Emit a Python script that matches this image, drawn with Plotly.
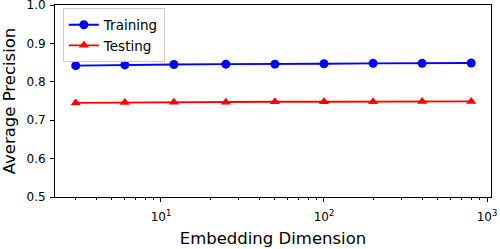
import plotly.graph_objects as go

dims = [3, 6, 12, 25, 50, 100, 200, 400, 800]
training = [0.842, 0.844, 0.845, 0.846, 0.846, 0.847, 0.848, 0.848, 0.849]
testing = [0.745, 0.746, 0.747, 0.747, 0.748, 0.748, 0.748, 0.749, 0.749]
x_tickvals = [10, 100, 1000]
x_ticktext = ["10<sup>1</sup>", "10<sup>2</sup>", "10<sup>3</sup>"]
x_minor_tickvals = [3, 4, 5, 6, 7, 8, 9, 20, 30, 40, 50, 60, 70, 80, 90,
                    200, 300, 400, 500, 600, 700, 800, 900]
y_tickvals = [0.5, 0.6, 0.7, 0.8, 0.9, 1.0]

font = "DejaVu Sans"

fig = go.Figure()
fig.add_trace(go.Scatter(x=dims, y=training, name="Training", mode="lines+markers",
                         line=dict(color="#0000ff", width=1.8),
                         marker=dict(symbol="circle", size=9, color="#0000ff")))
fig.add_trace(go.Scatter(x=dims, y=testing, name="Testing", mode="lines+markers",
                         line=dict(color="#ff0000", width=1.8),
                         marker=dict(symbol="triangle-up", size=9, color="#ff0000")))

fig.update_layout(
    width=500, height=249,
    margin=dict(l=55, r=9, t=5, b=52, autoexpand=False),
    paper_bgcolor="white", plot_bgcolor="white",
    font=dict(family=font, size=12, color="black"),
    showlegend=True,
    legend=dict(x=0.018, y=0.982, xanchor="left", yanchor="top",
                bgcolor="rgba(255,255,255,0.8)", bordercolor="#cccccc", borderwidth=1,
                font=dict(family=font, size=13.5), tracegroupgap=0),
)
fig.update_xaxes(type="log", range=[0.35, 3.0245],
                 tickvals=x_tickvals, ticktext=x_ticktext,
                 ticks="outside", ticklen=4, tickwidth=1, tickcolor="black",
                 ticklabeloverflow="allow", ticklabelstandoff=5,
                 minor=dict(tickvals=x_minor_tickvals, ticks="outside", ticklen=2,
                            tickwidth=1, tickcolor="black", showgrid=False),
                 showline=True, linecolor="black", linewidth=1, mirror=True,
                 showgrid=False, zeroline=False,
                 title=dict(text="Embedding Dimension", font=dict(family=font, size=16.5), standoff=9),
                 tickfont=dict(family=font, size=12))
fig.update_yaxes(range=[0.5, 1.0], tickvals=y_tickvals, tickformat=".1f",
                 ticks="outside", ticklen=4, tickwidth=1, tickcolor="black",
                 ticklabeloverflow="allow", ticklabelstandoff=2,
                 showline=True, linecolor="black", linewidth=1, mirror=True,
                 showgrid=False, zeroline=False,
                 title=dict(text="Average Precision", font=dict(family=font, size=16.5), standoff=6),
                 tickfont=dict(family=font, size=12))

fig.write_html("out.html", config={"displayModeBar": False},
               post_script="document.body.style.margin='0';document.body.style.overflow='hidden';")
